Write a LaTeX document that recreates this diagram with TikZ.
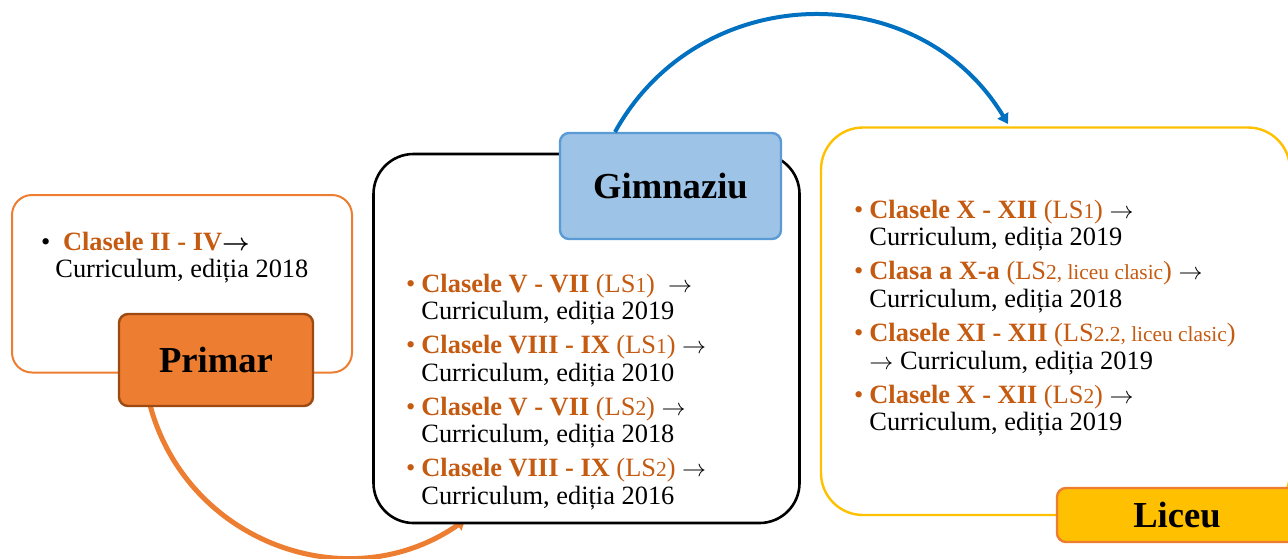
\documentclass[tikz,border=0pt]{standalone}
\usepackage{fontspec}
\setmainfont{Liberation Serif}
\usetikzlibrary{arrows.meta}
\definecolor{orgA}{HTML}{ED7D31}
\definecolor{orgT}{HTML}{C55A11}
\definecolor{brn}{HTML}{9C4A12}
\definecolor{bluF}{HTML}{9DC3E6}
\definecolor{bluB}{HTML}{5B9BD5}
\definecolor{bluA}{HTML}{0070C0}
\definecolor{yel}{HTML}{FFC000}
\newcommand\hd[1]{\textbf{\textcolor{orgT}{#1}}}
\newcommand\lsx[1]{\textcolor{orgT}{(LS{\fontsize{10.7pt}{12pt}\selectfont #1})}}
\newcommand\bul[1]{\llap{\textcolor{#1}{\textbullet}\hspace{3pt}}}
\newcommand\rar{$\rightarrow$}
\begin{document}
\begin{tikzpicture}[x=0.5pt,y=-0.5pt,
  bodytext/.style={anchor=base west, inner sep=0pt, align=left,
    font=\fontsize{13.2pt}{13.75pt}\selectfont},
  lbl/.style={rounded corners=4.5pt, line width=1.2pt, inner sep=0pt,
    font=\fontsize{18.3pt}{20pt}\selectfont\bfseries},
  arctip/.style={-{Triangle[length=5pt,width=6pt]}}]
\useasboundingbox (0,0) rectangle (1288,558);
% outer boxes
\draw[orgA, line width=1pt, rounded corners=10pt] (12,195) rectangle (352,372.5);
\draw[yel, line width=1.2pt, rounded corners=21pt] (821,127.5) rectangle (1290,515);
% orange connector (behind gimnaziu box)
\coordinate (o1) at (150,405);
\coordinate (o2) at (465,520);
\draw[orgA, line width=2.5pt, -{Triangle[length=4.5pt,width=6.5pt]}] (o1) .. controls (186.8,542.4) and (348.4,601.3) .. (o2);
\draw[black, line width=1.3pt, rounded corners=20pt, fill=white] (373.5,154) rectangle (799.5,523);
% labels
\node[lbl, draw=brn, fill=orgA, minimum width=97pt, minimum height=46pt] (primar) at (216,360) {Primar};
\node[lbl, draw=bluB, fill=bluF, minimum width=110.5pt, minimum height=53pt] (gimn) at (670.5,186) {Gimnaziu};
\node[lbl, draw=orgA, fill=yel, minimum width=120pt, minimum height=27pt] (liceu) at (1177,515) {Liceu};
% blue connector
\coordinate (b1) at (615,132);
\coordinate (b2) at (1008,124);
\draw[bluA, line width=2pt, arctip] (b1) .. controls (699,-20) and (918,-25) .. (b2);
% texts (base anchor = baseline of the last line)
\node[bodytext] (tprimar) at (55,277.5) {\llap{\textbullet\hspace{2.5pt}}\hspace*{3.8pt}\hd{Clasele II - IV}{\boldmath$\rightarrow$}\\
Curriculum, ediția 2018};
\node[bodytext] (tgimn) at (421,504.3) {\bul{orgT}\hd{Clasele V - VII} \lsx{1} \ \rar\\
Curriculum, ediția 2019\\[3.3pt]
\bul{orgT}\hd{Clasele VIII - IX} \lsx{1} \rar\\
Curriculum, ediția 2010\\[3.3pt]
\bul{orgT}\hd{Clasele V - VII} \lsx{2} \rar\\
Curriculum, ediția 2018\\[3.3pt]
\bul{orgT}\hd{Clasele VIII - IX} \lsx{2} \rar\\
Curriculum, ediția 2016};
\node[bodytext] (tliceu) at (869,430.6) {\bul{orgT}\hd{Clasele X - XII} \lsx{1} \rar\\
Curriculum, ediția 2019\\[3.3pt]
\bul{orgT}\hd{Clasa a X-a} \lsx{2, liceu clasic} \rar\\
Curriculum, ediția 2018\\[3.3pt]
\bul{orgT}\hd{Clasele XI - XII} \lsx{2.2, liceu clasic}\\
\rar{} Curriculum, ediția 2019\\[3.3pt]
\bul{orgT}\hd{Clasele X - XII} \lsx{2} \rar\\
Curriculum, ediția 2019};
\end{tikzpicture}
\end{document}
